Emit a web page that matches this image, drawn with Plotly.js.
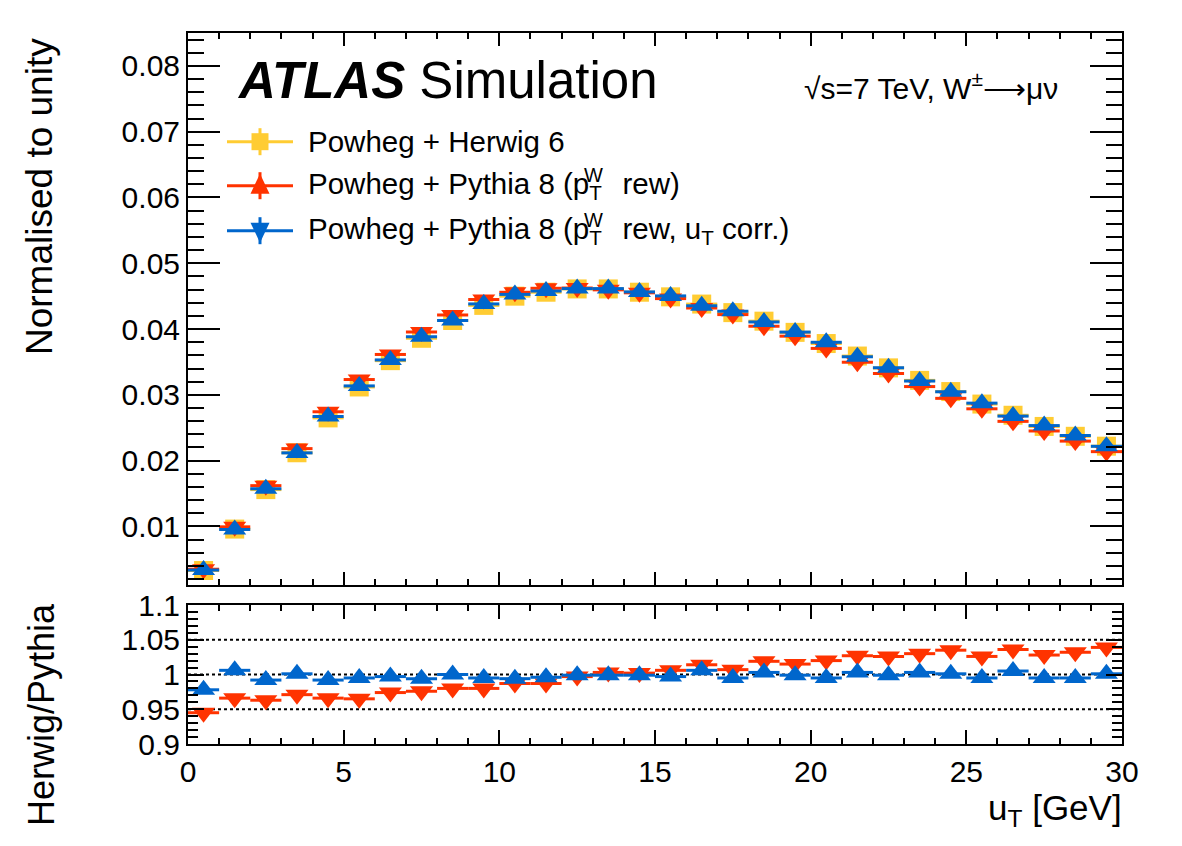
<!DOCTYPE html>
<html>
<head>
<meta charset="utf-8">
<script src="https://cdn.plot.ly/plotly-3.0.1.min.js"></script>
<style>
  html, body { margin: 0; padding: 0; background: #ffffff; }
  #chart { width: 1182px; height: 846px; }
</style>
</head>
<body>
<div id="chart"></div>
<script>
// Bin centres of the recoil u_T distribution [GeV]
const uT = [0.5, 1.5, 2.5, 3.5, 4.5, 5.5, 6.5, 7.5, 8.5, 9.5,
            10.5, 11.5, 12.5, 13.5, 14.5, 15.5, 16.5, 17.5, 18.5, 19.5,
            20.5, 21.5, 22.5, 23.5, 24.5, 25.5, 26.5, 27.5, 28.5, 29.5];
const binHalfWidth = 0.5;

// Normalised distributions
const herwig = [0.0033, 0.0096, 0.0156, 0.0212, 0.0265, 0.0312, 0.0352, 0.0386, 0.0413, 0.0436,
                0.0450, 0.0456, 0.0461, 0.0461, 0.0456, 0.0449, 0.0438, 0.0425, 0.0412, 0.0395,
                0.0378, 0.0359, 0.0341, 0.0322, 0.0305, 0.0286, 0.0269, 0.0252, 0.0237, 0.0222];
const pythiaRew = [0.00350, 0.00994, 0.01620, 0.02183, 0.02743, 0.03233, 0.03614, 0.03955, 0.04214, 0.04449,
                   0.04559, 0.04620, 0.04624, 0.04596, 0.04551, 0.04463, 0.04320, 0.04220, 0.04043, 0.03892,
                   0.03706, 0.03496, 0.03324, 0.03126, 0.02947, 0.02788, 0.02597, 0.02451, 0.02297, 0.02137];
const pythiaRewCorr = [0.00337, 0.00954, 0.01573, 0.02118, 0.02671, 0.03136, 0.03531, 0.03883, 0.04130, 0.04382,
                       0.04527, 0.04578, 0.04615, 0.04615, 0.04565, 0.04504, 0.04354, 0.04271, 0.04108, 0.03954,
                       0.03799, 0.03579, 0.03413, 0.03210, 0.03047, 0.02874, 0.02677, 0.02533, 0.02382, 0.02218];

// Herwig / Pythia ratios
const ratioRew = [0.945, 0.966, 0.963, 0.971, 0.966, 0.965, 0.974, 0.976, 0.980, 0.980,
                  0.987, 0.987, 0.997, 1.003, 1.002, 1.006, 1.014, 1.007, 1.019, 1.015,
                  1.020, 1.027, 1.026, 1.030, 1.035, 1.026, 1.036, 1.028, 1.032, 1.039];
const ratioRewCorr = [0.978, 1.006, 0.992, 1.001, 0.992, 0.995, 0.997, 0.994, 1.000, 0.995,
                      0.994, 0.996, 0.999, 0.999, 0.999, 0.997, 1.006, 0.995, 1.003, 0.999,
                      0.995, 1.003, 0.999, 1.003, 1.001, 0.995, 1.005, 0.995, 0.995, 1.001];

const refLevels = [0.95, 1, 1.05];

// En + thin space after p_T leaves room for the stacked W superscript
const legendLabels = [
  'Powheg + Herwig 6',
  'Powheg + Pythia 8 (p<sub>T</sub>\u2002\u2009rew)',
  'Powheg + Pythia 8 (p<sub>T</sub>\u2002\u2009rew, u<sub>T</sub> corr.)'
];

const YELLOW = '#ffcc33';
const RED = '#ff3300';
const BLUE = '#0066cc';
const FONT = 'Liberation Sans, Arial, Helvetica, sans-serif';

// Figure geometry (pixels)
const W = 1182, H = 846;
const M = { l: 188, r: 60, t: 33, b: 102 };
const plotW = W - M.l - M.r;
const plotH = H - M.t - M.b;
const px = x => (x - M.l) / plotW;
const py = y => (H - M.b - y) / plotH;

function series(x, y, color, symbol, size, xa, ya) {
  return {
    type: 'scatter', mode: 'markers', x: x, y: y, xaxis: xa, yaxis: ya,
    showlegend: false, hoverinfo: 'x+y',
    marker: { symbol: symbol, size: size, color: color, line: { width: 0 } },
    error_x: { type: 'constant', value: binHalfWidth, color: color, thickness: 3, width: 0 }
  };
}

const traces = [
  series(uT, herwig, YELLOW, 'square', 19, 'x', 'y'),
  series(uT, pythiaRew, RED, 'triangle-down', 20, 'x', 'y'),
  series(uT, pythiaRewCorr, BLUE, 'triangle-up', 20, 'x', 'y'),
  series(uT, ratioRew, RED, 'triangle-down', 20, 'x2', 'y2'),
  series(uT, ratioRewCorr, BLUE, 'triangle-up', 20, 'x2', 'y2')
];

const axisCommon = {
  showline: true, linecolor: '#000', linewidth: 2, mirror: 'allticks',
  ticks: 'inside', tickcolor: '#000', tickwidth: 2,
  showgrid: false, zeroline: false,
  tickfont: { family: FONT, size: 30, color: '#000' }
};

const shapes = [];
// Dotted reference lines in the ratio panel
refLevels.forEach(v => shapes.push({
  type: 'line', xref: 'x2', yref: 'y2', x0: 0, x1: 30, y0: v, y1: v,
  line: { color: '#000', width: 2, dash: 'dot' }, layer: 'below'
}));

// Legend symbols
const legendRows = [
  { y: 141.7, color: YELLOW, path: 'M-8.5,-8.5 L8.5,-8.5 L8.5,8.5 L-8.5,8.5 Z' },
  { y: 185.7, color: RED, path: 'M-9.5,-8 L9.5,-8 L0,12 Z' },
  { y: 230.7, color: BLUE, path: 'M-9.5,8 L9.5,8 L0,-12 Z' }
];
legendRows.forEach(r => {
  shapes.push({ type: 'line', xref: 'paper', yref: 'paper', x0: px(227), x1: px(293), y0: py(r.y), y1: py(r.y),
                line: { color: r.color, width: 3 } });
  shapes.push({ type: 'line', xref: 'paper', yref: 'paper', xsizemode: 'pixel', ysizemode: 'pixel',
                xanchor: px(260), yanchor: py(r.y), x0: 0, x1: 0, y0: -13.5, y1: 13.5,
                line: { color: r.color, width: 3 } });
  shapes.push({ type: 'path', xref: 'paper', yref: 'paper', xsizemode: 'pixel', ysizemode: 'pixel',
                xanchor: px(260), yanchor: py(r.y), path: r.path, fillcolor: r.color, line: { width: 0 } });
});

const annotations = [
  { xref: 'paper', yref: 'paper', x: px(235), y: py(80), xanchor: 'left', yanchor: 'middle', showarrow: false,
    text: '<b><i>ATLAS</i></b> Simulation', font: { family: FONT, size: 51, color: '#000' } },
  { xref: 'paper', yref: 'paper', x: px(1060), y: py(86), xanchor: 'right', yanchor: 'middle', showarrow: false,
    text: '√s=7 TeV, W<sup>±</sup>⟶μν', font: { family: FONT, size: 30, color: '#000' } },
  { xref: 'paper', yref: 'paper', x: px(39), y: py(197), xanchor: 'center', yanchor: 'middle', showarrow: false,
    textangle: -90, text: 'Normalised to unity', font: { family: FONT, size: 37, color: '#000' } },
  { xref: 'paper', yref: 'paper', x: px(41), y: py(715), xanchor: 'center', yanchor: 'middle', showarrow: false,
    textangle: -90, text: 'Herwig/Pythia', font: { family: FONT, size: 36, color: '#000' } },
  { xref: 'paper', yref: 'paper', x: px(1124), y: py(810), xanchor: 'right', yanchor: 'middle', showarrow: false,
    text: 'u<sub>T</sub> [GeV]', font: { family: FONT, size: 35, color: '#000' } }
];
legendLabels.forEach((t, i) => annotations.push({
  xref: 'paper', yref: 'paper', x: px(306), y: py(legendRows[i].y), xanchor: 'left', yanchor: 'middle',
  showarrow: false, text: t, font: { family: FONT, size: 29.5, color: '#000' }
}));
// Superscript W stacked above the subscript T of p_T
[1, 2].forEach(i => annotations.push({
  xref: 'paper', yref: 'paper', x: px(593), y: py(legendRows[i].y - 11), xanchor: 'center', yanchor: 'middle',
  showarrow: false, text: 'W', font: { family: FONT, size: 20, color: '#000' }
}));

const layout = {
  width: W, height: H,
  margin: M,
  paper_bgcolor: '#fff', plot_bgcolor: '#fff',
  showlegend: false,
  font: { family: FONT, color: '#000' },
  xaxis: Object.assign({}, axisCommon, {
    domain: [0, 1], anchor: 'y', range: [0, 30], tick0: 0, dtick: 5, ticklen: 13,
    showticklabels: false,
    minor: { dtick: 1, ticklen: 6, tickwidth: 2, tickcolor: '#000', ticks: 'inside', showgrid: false }
  }),
  yaxis: Object.assign({}, axisCommon, {
    domain: [py(585), 1], anchor: 'x', range: [0.0011, 0.085], tick0: 0, dtick: 0.01, ticklen: 32,
    minor: { dtick: 0.002, ticklen: 16, tickwidth: 2, tickcolor: '#000', ticks: 'inside', showgrid: false }
  }),
  xaxis2: Object.assign({}, axisCommon, {
    domain: [0, 1], anchor: 'y2', range: [0, 30], tick0: 0, dtick: 5, ticklen: 14,
    minor: { dtick: 1, ticklen: 6, tickwidth: 2, tickcolor: '#000', ticks: 'inside', showgrid: false }
  }),
  yaxis2: Object.assign({}, axisCommon, {
    domain: [0, py(605)], anchor: 'x2', range: [0.9, 1.1], tick0: 0, dtick: 0.05, ticklen: 16,
    minor: { dtick: 0.01, ticklen: 10, tickwidth: 2, tickcolor: '#000', ticks: 'inside', showgrid: false }
  }),
  shapes: shapes,
  annotations: annotations
};

Plotly.newPlot('chart', traces, layout, { displayModeBar: false, staticPlot: true });
</script>
</body>
</html>
